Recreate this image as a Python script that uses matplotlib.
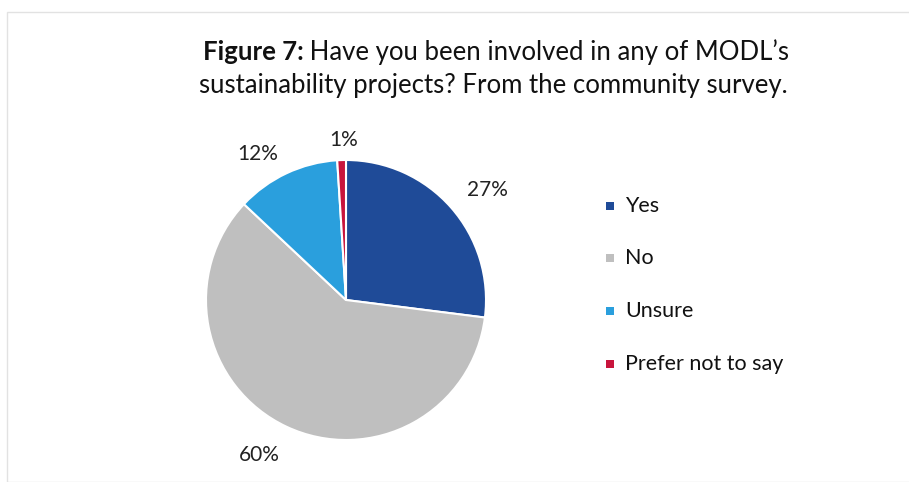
import numpy as np
import matplotlib.pyplot as plt
from matplotlib.patches import Rectangle

categories = ["Yes", "No", "Unsure", "Prefer not to say"]
shares = [27, 60, 12, 1]
label_texts = ["27%", "60%", "12%", "1%"]
colors = ["#1F4B98", "#BFBFBF", "#2A9FDD", "#C8143C"]
label_dist = [1.28, 1.27, 1.22, 1.14]
label_turn = [-3.5, -4.0, 6.0, -1.0]

plt.rcParams["font.family"] = ["Lato", "DejaVu Sans"]

W, H = 909, 482
fig = plt.figure(figsize=(W / 100, H / 100), dpi=100)
fig.patch.set_facecolor("white")

# faint frame around the chart area
fig.patches.append(Rectangle((7 / W, 0), 1.2, (H - 12) / H, transform=fig.transFigure,
                             fill=False, edgecolor="#E2E2E2", linewidth=1.0))

cx, cy, r = 346, 300, 140
ax = fig.add_axes([(cx - r) / W, (H - cy - r) / H, 2 * r / W, 2 * r / H])
wedges, _ = ax.pie(shares, colors=colors, startangle=90, counterclock=False,
                   radius=1.0, wedgeprops=dict(edgecolor="white", linewidth=1.5))
ax.set_xlim(-1, 1)
ax.set_ylim(-1, 1)
ax.set_aspect("equal")
ax.axis("off")

for w, txt, d, turn in zip(wedges, label_texts, label_dist, label_turn):
    ang = np.deg2rad((w.theta1 + w.theta2) / 2 + turn)
    ax.text(d * np.cos(ang), d * np.sin(ang), txt, ha="center", va="center",
            fontsize=15, color="#222222", clip_on=False)

# two-line title, first words in bold
title_size = 18.5
title_center = 496 / W
renderer = fig.canvas.get_renderer()
bold_part = fig.text(0, 1 - 52 / H, "Figure 7:", ha="left", va="center",
                     fontsize=title_size, fontweight="bold", color="#111111")
rest_part = fig.text(0, 1 - 52 / H, " Have you been involved in any of MODL\u2019s",
                     ha="left", va="center", fontsize=title_size, color="#111111")
wb = bold_part.get_window_extent(renderer).width / W
wr = rest_part.get_window_extent(renderer).width / W
x0 = title_center - (wb + wr) / 2
bold_part.set_x(x0)
rest_part.set_x(x0 + wb)
fig.text(title_center - 3 / W, 1 - 86 / H, "sustainability projects? From the community survey.",
         ha="center", va="center", fontsize=title_size, color="#111111")

# legend
row_y = [206, 258, 311, 364]
for col, lab, y in zip(colors, categories, row_y):
    fig.patches.append(Rectangle((606 / W, 1 - (y + 4) / H), 8 / W, 8 / H,
                                 transform=fig.transFigure, facecolor=col, edgecolor="none"))
    fig.text(625 / W, 1 - y / H, lab, ha="left", va="center", fontsize=15.5, color="#111111")

fig.savefig("out.png", dpi=100, facecolor="white")
